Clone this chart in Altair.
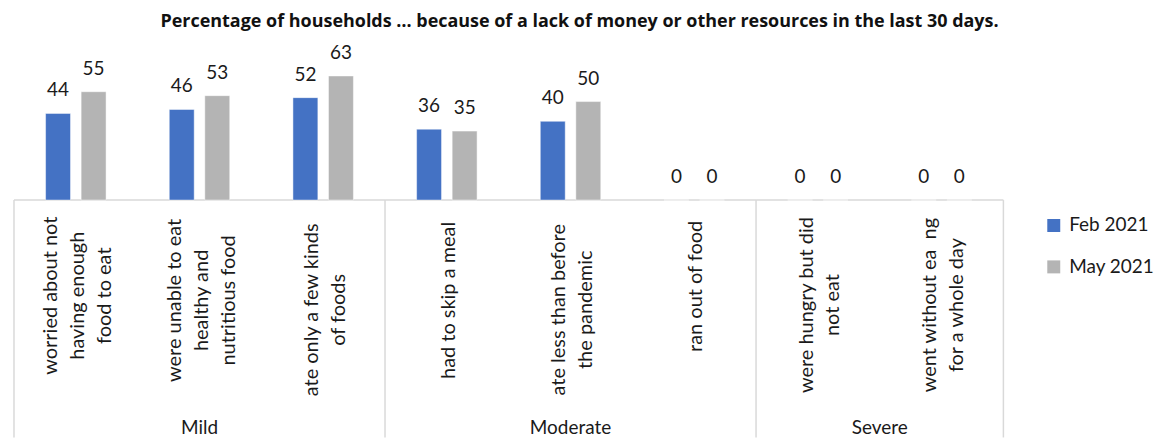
import altair as alt
import pandas as pd

title_text = "Percentage of households \u2026 because of a lack of money or other resources in the last 30 days."
categories = [
    "worried about not\nhaving enough\nfood to eat",
    "were unable to eat\nhealthy and\nnutritious food",
    "ate only a few kinds\nof foods",
    "had to skip a meal",
    "ate less than before\nthe pandemic",
    "ran out of food",
    "were hungry but did\nnot eat",
    "went without ea \u00a0ng\nfor a whole day",
]
groups = ["Mild", "Mild", "Mild", "Moderate", "Moderate", "Moderate", "Severe", "Severe"]
series = ["Feb 2021", "May 2021"]
feb = [44, 46, 52, 36, 40, 0, 0, 0]
may = [55, 53, 63, 35, 50, 0, 0, 0]
colors = ["#4472C4", "#B4B4B4"]

FONT = "Lato"
W, H = 1002, 158
YMAX = 80
U = YMAX / H  # data units per pixel (for layout offsets below the axis)
STEP = W / len(categories)  # pixels per category
LINE_H = 27
half_gap = 18 / STEP

rows = []
for i, c in enumerate(categories):
    for s, vals, off in ((series[0], feb, -half_gap), (series[1], may, half_gap)):
        rows.append({"idx": i, "series": s, "value": vals[i], "xpos": i + off})
bars_df = pd.DataFrame(rows)

cat_df = pd.DataFrame({
    "idx": list(range(len(categories))),
    "label": categories,
    "chars": [max(len(l) for l in c.split("\n")) for c in categories],
    "nlines": [len(c.split("\n")) for c in categories],
})

grp_rows = []
for g in dict.fromkeys(groups):
    ids = [i for i, gg in enumerate(groups) if gg == g]
    grp_rows.append({"group": g, "start": min(ids) - 0.5, "end": max(ids) + 0.5,
                     "mid": (min(ids) + max(ids)) / 2})
grp_df = pd.DataFrame(grp_rows)
edges = sorted(float(e) for e in set(grp_df["start"]).union(grp_df["end"]))
edge_df = pd.DataFrame({"edge": edges})

xscale = alt.Scale(domain=[-0.5, len(categories) - 0.5], nice=False, zero=False)
yscale = alt.Scale(domain=[0, YMAX], nice=False)


def X(field):
    return alt.X(field, scale=xscale, axis=None)


def Y(field):
    return alt.Y(field, scale=yscale, axis=None)


bars = alt.Chart(bars_df).mark_bar(size=25, stroke="white", strokeWidth=0.8, strokeOpacity=0.6,
                                   orient="vertical").encode(
    x=X("xpos:Q"),
    y=Y("value:Q"),
    color=alt.Color("series:N", scale=alt.Scale(domain=series, range=colors),
                    legend=alt.Legend(orient="none", legendX=1038, legendY=174, title=None,
                                      symbolType="square", symbolSize=169, symbolStrokeWidth=0,
                                      labelFontSize=19, labelFont=FONT, labelColor="#1a1a1a",
                                      rowPadding=21.5, labelOffset=6)),
)

value_labels = alt.Chart(bars_df).mark_text(dy=-17, baseline="alphabetic", fontSize=19, font=FONT, color="#1a1a1a").encode(
    x=X("xpos:Q"),
    y=Y("value:Q"),
    text=alt.Text("value:Q"),
)

baseline_rule = alt.Chart(grp_df).transform_calculate(zero="0").mark_rule(
    color="#D9D9D9", strokeWidth=1.5).encode(
    x=X("start:Q"),
    x2="end:Q",
    y=Y("zero:Q"),
)

sep_rules = alt.Chart(edge_df).transform_calculate(
    zero="0", bottom=f"{-238 * U}"
).mark_rule(color="#D9D9D9", strokeWidth=1.5).encode(
    x=X("edge:Q"),
    y=Y("zero:Q"),
    y2="bottom:Q",
)

cat_labels = alt.Chart(cat_df).transform_calculate(
    ypos=f"-(16 + datum.chars * 4.7) * {U}",
    xlab=f"datum.idx - (datum.nlines - 1) * {LINE_H / 2} / {STEP}",
    lines="split(datum.label, '\\n')",
).mark_text(angle=270, align="center", baseline="middle", fontSize=20, font=FONT,
            color="#1a1a1a", lineHeight=LINE_H, dy=2).encode(
    x=X("xlab:Q"),
    y=Y("ypos:Q"),
    text="lines:N",
)

grp_labels = alt.Chart(grp_df).transform_calculate(
    ypos=f"{-229 * U}"
).mark_text(baseline="middle", fontSize=19, font=FONT, color="#1a1a1a").encode(
    x=X("mid:Q"),
    y=Y("ypos:Q"),
    text="group:N",
)

chart = alt.layer(baseline_rule, sep_rules, bars, value_labels, cat_labels, grp_labels).properties(
    width=W, height=H,
    title=alt.Title(title_text, fontSize=18, fontWeight="bold", font="Open Sans", color="#111",
                    anchor="middle", dx=71, offset=12),
    padding={"left": 1, "top": 4, "right": 0, "bottom": 0},
).configure_view(strokeWidth=0)

chart.save("out.html", embed_options={"renderer": "svg", "actions": False})
